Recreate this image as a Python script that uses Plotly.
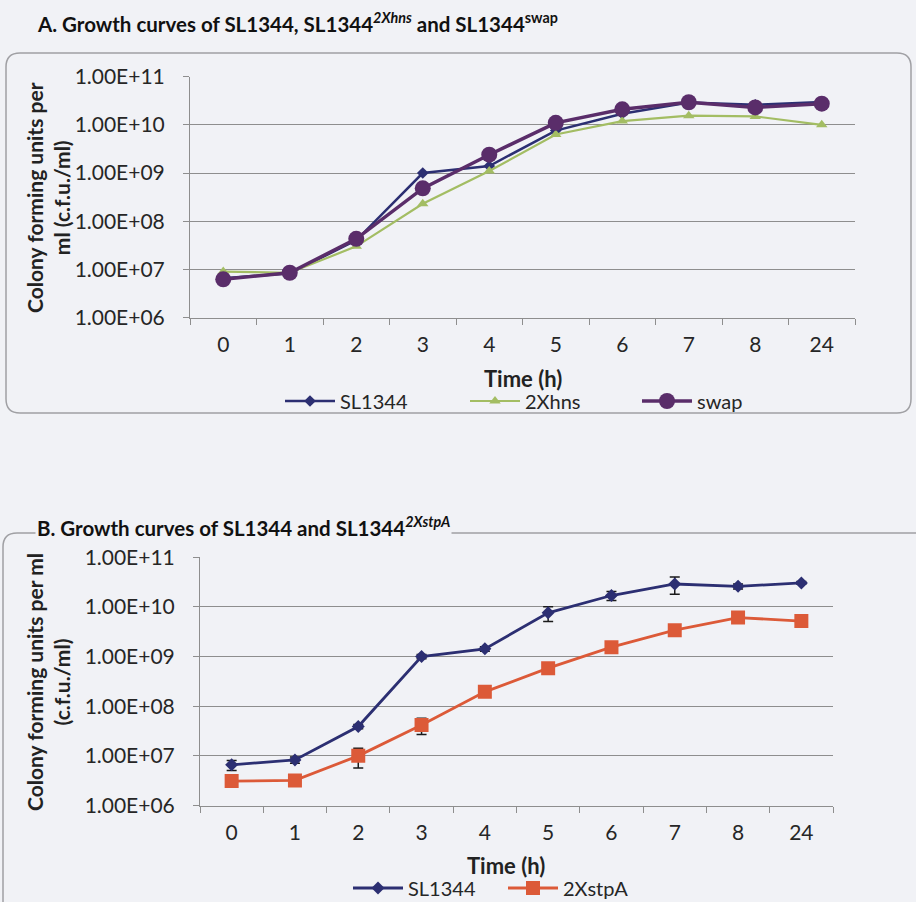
import plotly.graph_objects as go

# Sampling times (h) shown as categories
hours = ["0", "1", "2", "3", "4", "5", "6", "7", "8", "24"]

# Panel A: viable counts (c.f.u./ml)
sl1344_a = [6.5e6, 8.3e6, 4.0e7, 1.0e9, 1.4e9, 7.6e9, 1.7e10, 2.9e10, 2.6e10, 3.0e10]
hns_2x = [9.0e6, 8.5e6, 3.0e7, 2.3e8, 1.1e9, 6.3e9, 1.2e10, 1.55e10, 1.5e10, 1.0e10]
swap = [6.2e6, 8.5e6, 4.3e7, 4.8e8, 2.4e9, 1.1e10, 2.1e10, 2.95e10, 2.3e10, 2.75e10]

# Panel B: viable counts (c.f.u./ml) with standard deviations
sl1344_b = [6.6e6, 8.3e6, 3.9e7, 1.0e9, 1.43e9, 7.6e9, 1.7e10, 2.9e10, 2.6e10, 3.05e10]
sl1344_b_err = [1.5e6, 1.2e6, 4.0e6, 1.0e8, 1.5e8, 2.5e9, 3.5e9, 1.1e10, 3.0e9, 2.0e9]
stpa_2x = [3.1e6, 3.2e6, 1.0e7, 4.2e7, 1.95e8, 5.85e8, 1.55e9, 3.4e9, 6.1e9, 5.2e9]
stpa_2x_err = [3.0e5, 3.0e5, 4.3e6, 1.5e7, 2.0e7, 1.0e8, 2.0e8, 3.0e8, 8.0e8, 5.0e8]

# Log-axis ticks
y_tickvals = [1e6, 1e7, 1e8, 1e9, 1e10, 1e11]
y_ticktext = ["1.00E+06", "1.00E+07", "1.00E+08", "1.00E+09", "1.00E+10", "1.00E+11"]

W, H = 916, 902
FONT = "Lato"
BG = "#f1f2f6"
GRID = "#8e8e8e"
NAVY = "#2c2f72"
GREEN = "#a3bd63"
PURPLE = "#5a2d6a"
RED = "#dc5a38"


def px(x):
    return x / W


def py(y):
    return 1 - y / H


def rounded_box(x0, y0, x1, y1, r):
    pts = [
        f"M {px(x0 + r)},{py(y0)}",
        f"L {px(x1 - r)},{py(y0)}",
        f"Q {px(x1)},{py(y0)} {px(x1)},{py(y0 + r)}",
        f"L {px(x1)},{py(y1 - r)}",
        f"Q {px(x1)},{py(y1)} {px(x1 - r)},{py(y1)}",
        f"L {px(x0 + r)},{py(y1)}",
        f"Q {px(x0)},{py(y1)} {px(x0)},{py(y1 - r)}",
        f"L {px(x0)},{py(y0 + r)}",
        f"Q {px(x0)},{py(y0)} {px(x0 + r)},{py(y0)}",
        "Z",
    ]
    return dict(type="path", path=" ".join(pts), xref="paper", yref="paper",
                line=dict(color="#a0a0a4", width=1.5), fillcolor="rgba(0,0,0,0)",
                layer="below")


fig = go.Figure()

# Panel A traces (one legend box per entry so each can be placed)
fig.add_trace(go.Scatter(x=hours, y=sl1344_a, name="SL1344", mode="lines+markers",
                         line=dict(color=NAVY, width=2.5),
                         marker=dict(symbol="diamond", size=9, color=NAVY),
                         xaxis="x", yaxis="y", legend="legend", showlegend=True))
fig.add_trace(go.Scatter(x=hours, y=hns_2x, name="2Xhns", mode="lines+markers",
                         line=dict(color=GREEN, width=2.2),
                         marker=dict(symbol="triangle-up", size=10, color=GREEN),
                         xaxis="x", yaxis="y", legend="legend2", showlegend=True))
fig.add_trace(go.Scatter(x=hours, y=swap, name="swap", mode="lines+markers",
                         line=dict(color=PURPLE, width=3.5),
                         marker=dict(symbol="circle", size=16, color=PURPLE),
                         xaxis="x", yaxis="y", legend="legend3", showlegend=True))

# Panel B traces
fig.add_trace(go.Scatter(x=hours, y=sl1344_b, name="SL1344", mode="lines+markers",
                         line=dict(color=NAVY, width=2.8),
                         marker=dict(symbol="diamond", size=10, color=NAVY),
                         error_y=dict(type="data", array=sl1344_b_err, color="#1a1a1a",
                                      thickness=1.5, width=5),
                         xaxis="x2", yaxis="y2", legend="legend4", showlegend=True))
fig.add_trace(go.Scatter(x=hours, y=stpa_2x, name="2XstpA", mode="lines+markers",
                         line=dict(color=RED, width=2.8),
                         marker=dict(symbol="square", size=14, color=RED),
                         error_y=dict(type="data", array=stpa_2x_err, color="#1a1a1a",
                                      thickness=1.5, width=5),
                         xaxis="x2", yaxis="y2", legend="legend5", showlegend=True))

tickfont = dict(family=FONT, size=21, color="#262626")

xaxis_common = dict(type="category", range=[-0.5, 9.5], tickson="boundaries",
                    ticks="outside", ticklen=6, tickcolor=GRID, tickwidth=1,
                    showline=True, linecolor=GRID, linewidth=1, showgrid=False,
                    tickfont=tickfont, ticklabelstandoff=8, fixedrange=True)
yaxis_common = dict(type="log", range=[6, 11], tickvals=y_tickvals, ticktext=y_ticktext,
                    ticks="outside", ticklen=6, tickcolor=GRID, tickwidth=1,
                    showline=True, linecolor=GRID, linewidth=1,
                    showgrid=True, gridcolor=GRID, gridwidth=1,
                    tickfont=tickfont, ticklabelstandoff=14, fixedrange=True)

legend_font = dict(family=FONT, size=20, color="#262626")


def legend_at(x_left, y_mid):
    return dict(orientation="h", x=px(x_left), y=py(y_mid), xanchor="left",
                yanchor="middle", bgcolor="rgba(0,0,0,0)", font=legend_font,
                itemwidth=50, borderwidth=0, visible=True)


fig.update_layout(
    width=W, height=H,
    showlegend=True,
    margin=dict(l=0, r=0, t=0, b=0, autoexpand=False),
    paper_bgcolor=BG, plot_bgcolor="rgba(0,0,0,0)",
    font=dict(family=FONT, color="#262626"),
    xaxis=dict(domain=[px(190), px(855)], anchor="y", **xaxis_common),
    yaxis=dict(domain=[py(317.5), py(76.7)], anchor="x", **yaxis_common),
    xaxis2=dict(domain=[px(200), px(833)], anchor="y2", **xaxis_common),
    yaxis2=dict(domain=[py(805.5), py(557.3)], anchor="x2", **yaxis_common),
    legend=legend_at(280, 401),
    legend2=legend_at(465, 401),
    legend3=legend_at(637, 401),
    legend4=legend_at(348, 888),
    legend5=legend_at(503, 888),
    shapes=[rounded_box(6, 53, 911, 413, 14), rounded_box(3, 533, 930, 920, 14)],
)

title_font = dict(family=FONT, size=20.5, color="#111111", weight="bold")
label_font = dict(family=FONT, size=21, color="#222222", weight="bold")
time_font = dict(family=FONT, size=22, color="#222222", weight="bold")

annotations = [
    dict(text="A. Growth curves of SL1344, SL1344<sup><i>2Xhns</i></sup> and SL1344<sup>swap</sup>",
         x=px(35), y=py(22), xanchor="left", yanchor="middle", font=title_font),
    dict(text="B. Growth curves of SL1344 and SL1344<sup><i>2XstpA</i></sup>",
         x=px(35), y=py(526), xanchor="left", yanchor="middle", font=title_font,
         bgcolor=BG),
    dict(text="Colony forming units per<br>ml (c.f.u./ml)", textangle=-90,
         x=px(48), y=py(198), xanchor="center", yanchor="middle", font=label_font),
    dict(text="Colony forming units per ml<br>(c.f.u./ml)", textangle=-90,
         x=px(48), y=py(682), xanchor="center", yanchor="middle", font=label_font),
    dict(text="Time (h)", x=px(523), y=py(378), xanchor="center", yanchor="middle",
         font=time_font),
    dict(text="Time (h)", x=px(506), y=py(865), xanchor="center", yanchor="middle",
         font=time_font),
]
for a in annotations:
    a.update(xref="paper", yref="paper", showarrow=False)
fig.update_layout(annotations=annotations)

fig.write_html("out.html")
